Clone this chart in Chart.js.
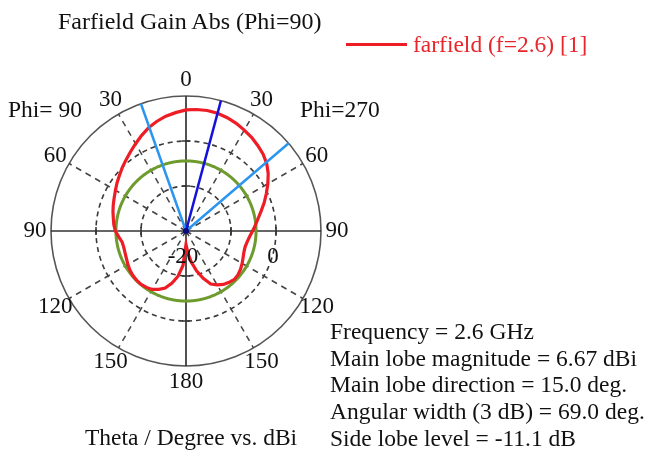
<!DOCTYPE html>
<html>
<head>
<meta charset="utf-8">
<title>Farfield Gain Abs (Phi=90)</title>
<script src="https://cdn.jsdelivr.net/npm/chart.js@4.4.1/dist/chart.umd.min.js"></script>
<style>
  body { margin: 0; background: #fff; }
  #quadro { position: relative; width: 647px; height: 462px; overflow: hidden;
            font-family: "Liberation Serif", "Times New Roman", serif; color: #111; }
  #quadro canvas { position: absolute; left: 0; top: 0; }
  .txt { position: absolute; white-space: nowrap; font-size: 23.5px; line-height: 23.5px; }
  .info { line-height: 26.7px; }
  #linhaLegenda { position: absolute; left: 346px; top: 43px; width: 61px; height: 3px; background: #ee1c24; }
</style>
</head>
<body>
<div id="quadro">
  <canvas id="polar" width="647" height="462"></canvas>
  <div class="txt" style="left:58px;top:9px;font-size:24px;line-height:24px">Farfield Gain Abs (Phi=90)</div>
  <div id="linhaLegenda"></div>
  <div class="txt" style="left:413px;top:33px;color:#e8262b">farfield (f=2.6) [1]</div>
  <div class="txt" style="left:8px;top:98px">Phi= 90</div>
  <div class="txt" style="left:300px;top:98px">Phi=270</div>
  <div class="txt info" style="left:330px;top:318px">
    Frequency = 2.6 GHz<br>
    Main lobe magnitude = 6.67 dBi<br>
    Main lobe direction = 15.0 deg.<br>
    Angular width (3 dB) = 69.0 deg.<br>
    Side lobe level = -11.1 dB
  </div>
  <div class="txt" style="left:85px;top:426px">Theta / Degree vs. dBi</div>
</div>
<script>
const passoAngulo = 0.5;          // resolucao das etiquetas do radar
const passoGanho = 5;             // cada valor abaixo vale 5 graus
const ganhoFarfield = [
  // 0 .. 175 (lado Phi=270)
  6.9, 7.1, 7.2, 7.1, 6.8, 6.4, 5.9, 5.4, 4.8, 4.2, 3.4, 2.3,
  1.0, -0.3, -1.5, -2.7, -3.7, -4.5, -5.2, -5.8, -6.2, -6.4, -6.3, -6.0,
  -5.6, -5.2, -4.9, -4.8, -5.1, -5.5, -6.2, -7.0, -8.8, -10.8, -12.9, -15.0,
  // 180 .. 355 (lado Phi=90)
  -17.0, -12.3, -9.8, -8.0, -6.5, -5.7, -5.0, -4.7, -4.5, -4.5, -4.6, -4.8,
  -5.1, -5.4, -5.6, -5.7, -5.6, -5.0, -4.3, -3.9, -3.6, -3.2, -2.8, -2.4,
  -1.9, -1.3, -0.7, 0.0, 0.7, 1.5, 2.4, 3.4, 4.4, 5.2, 5.9, 6.4
];
const rotulosTheta = ["0", "30", "60", "90", "120", "150", "180", "150", "120", "90", "60", "30"];
const ticksRotulados = ["-20", "0"];
const escalaMin = -20;
const escalaMax = 10;
const escalaPasso = 10;

const magnitudePrincipal = 6.67;
const direcaoPrincipal = 15.0;
const larguraAngular = 69.0;
const nivelLateral = -11.1;

const totalEtiquetas = 360 / passoAngulo;
const etiquetas = [];
for (let i = 0; i < totalEtiquetas; i++) etiquetas.push(String(i * passoAngulo));

function indiceDe(angulo) {
  const a = ((angulo % 360) + 360) % 360;
  return Math.round(a / passoAngulo) % totalEtiquetas;
}

function vazio() {
  return new Array(totalEtiquetas).fill(null);
}

// curva vermelha
const dadosFarfield = vazio();
ganhoFarfield.forEach((g, k) => { dadosFarfield[indiceDe(k * passoGanho)] = g; });

// raios do centro ate a borda
function raios(angulos) {
  const d = vazio();
  angulos.forEach(a => {
    const i = indiceDe(a);
    d[(i - 1 + totalEtiquetas) % totalEtiquetas] = escalaMin;
    d[i] = escalaMax;
  });
  return d;
}
const dadosPrincipal = raios([direcaoPrincipal]);
const dadosLargura = raios([direcaoPrincipal - larguraAngular / 2, direcaoPrincipal + larguraAngular / 2]);

// circulo do nivel de lobulo lateral
const dadosLateral = new Array(totalEtiquetas).fill(magnitudePrincipal + nivelLateral);

const rotulosPolares = {
  id: "rotulosPolares",
  afterDraw(chart) {
    const esc = chart.scales.r;
    const ctx = chart.ctx;
    ctx.save();
    ctx.fillStyle = "#111";
    ctx.strokeStyle = "#333";
    ctx.lineWidth = 1.5;

    // tracinhos nos eixos principais
    [0, 90, 180, 270].forEach(a => {
      const idx = indiceDe(a);
      const ang = esc.getIndexAngle(idx) - Math.PI / 2;
      const px = -Math.sin(ang), py = Math.cos(ang);
      [-10, 0].forEach(v => {
        const p = esc.getPointPositionForValue(idx, v);
        ctx.beginPath();
        ctx.moveTo(p.x - px * 4, p.y - py * 4);
        ctx.lineTo(p.x + px * 4, p.y + py * 4);
        ctx.stroke();
      });
    });

    ctx.font = '23px "Liberation Serif"';
    ctx.textAlign = "center";
    ctx.textBaseline = "middle";
    rotulosTheta.forEach((txt, k) => {
      const p = esc.getPointPosition(indiceDe(k * 30), esc.drawingArea + 16);
      ctx.fillText(txt, p.x, p.y);
    });

    // valores da escala ao longo do eixo de 90 graus
    ticksRotulados.forEach(txt => {
      const p = esc.getPointPositionForValue(indiceDe(90), Number(txt));
      ctx.fillText(txt, p.x - 3, p.y + 26);
    });
    ctx.restore();
  }
};

new Chart(document.querySelector("#polar"), {
  type: "radar",
  data: {
    labels: etiquetas,
    datasets: [
      {
        label: "Main lobe direction",
        data: dadosPrincipal,
        borderColor: "#1212dc",
        borderWidth: 2.5,
        pointRadius: c => (c.raw === escalaMin ? 3 : 0),
        pointBackgroundColor: "#0a0a80",
        pointBorderWidth: 0,
        spanGaps: false,
        fill: false
      },
      {
        label: "Angular width",
        data: dadosLargura,
        borderColor: "#2b95f0",
        borderWidth: 2.5,
        pointRadius: 0,
        spanGaps: false,
        fill: false
      },
      {
        label: "farfield (f=2.6) [1]",
        data: dadosFarfield,
        borderColor: "#ee1c24",
        borderWidth: 3.2,
        pointRadius: 0,
        spanGaps: true,
        fill: false,
        tension: 0
      },
      {
        label: "Side lobe level",
        data: dadosLateral,
        borderColor: "#6d9b2d",
        borderWidth: 3,
        pointRadius: 0,
        fill: false
      }
    ]
  },
  options: {
    responsive: false,
    animation: false,
    devicePixelRatio: 1,
    layout: { padding: { left: 51, top: 96, right: 326, bottom: 96 } },
    plugins: {
      legend: { display: false },
      title: { display: false },
      tooltip: { enabled: false }
    },
    scales: {
      r: {
        min: escalaMin,
        max: escalaMax,
        ticks: { display: false, stepSize: escalaPasso },
        pointLabels: { display: false },
        grid: {
          circular: true,
          color: c => (c.tick && c.tick.value === escalaMax ? "#555" : "#3a3a3a"),
          lineWidth: 1.6
        },
        border: {
          dash: c => (c.tick && c.tick.value === escalaMax ? [] : [5, 4])
        },
        angleLines: {
          color: c => ((c.index * passoAngulo) % 90 === 0 ? "#333" : "#444"),
          lineWidth: c => {
            const a = c.index * passoAngulo;
            if (a % 90 === 0) return 1.7;
            if (a % 30 === 0) return 1.5;
            return 0;
          },
          borderDash: c => ((c.index * passoAngulo) % 90 === 0 ? [] : [6, 5])
        }
      }
    }
  },
  plugins: [rotulosPolares]
});
</script>
</body>
</html>
